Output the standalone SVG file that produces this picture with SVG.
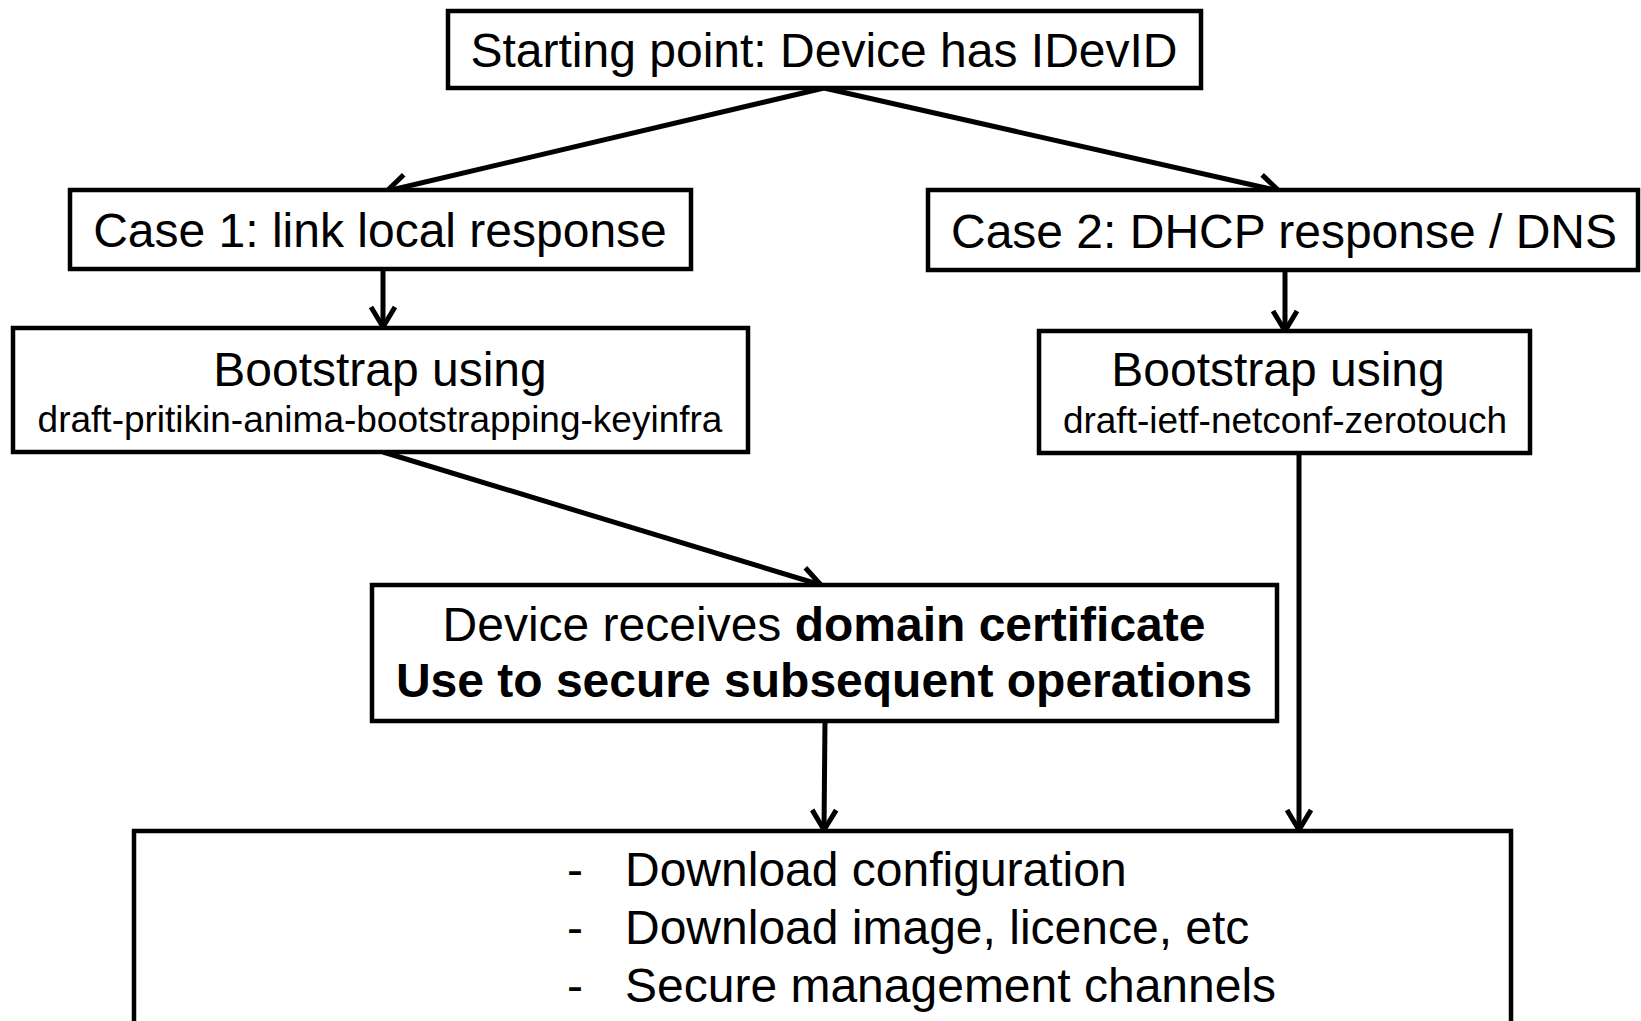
<svg xmlns="http://www.w3.org/2000/svg" width="1641" height="1021" viewBox="0 0 1641 1021">
<style>
.box{fill:#fff;stroke:#000;stroke-width:4.5}
.t{font-family:"Liberation Sans",Arial,sans-serif;font-size:48px;fill:#000}
.s{font-family:"Liberation Sans",Arial,sans-serif;font-size:37px;fill:#000}
.b{font-weight:bold}
.c{fill:none;stroke:#000;stroke-width:5;marker-end:url(#arr)}
</style>
<defs>
<marker id="arr" markerUnits="userSpaceOnUse" markerWidth="44" markerHeight="44" viewBox="-22 -22 44 44" refX="0" refY="0" orient="auto">
<path d="M-20,-12 L0,0 L-20,12" fill="none" stroke="#000" stroke-width="5" stroke-linejoin="miter"/>
</marker>
</defs>
<rect width="1641" height="1021" fill="#fff"/>
<g id="connectors">
<line class="c" x1="824" y1="88" x2="387" y2="191"/>
<line class="c" x1="824" y1="88" x2="1279" y2="191"/>
<line class="c" x1="383" y1="269" x2="383" y2="327"/>
<line class="c" x1="1285" y1="270" x2="1285" y2="331"/>
<line class="c" x1="383" y1="452" x2="821" y2="585"/>
<line class="c" x1="825" y1="721" x2="824" y2="830"/>
<line class="c" x1="1299" y1="453" x2="1299" y2="830"/>
</g>
<g id="start">
<rect class="box" x="448" y="11" width="753" height="77"/>
<text class="t" x="824" y="67" text-anchor="middle">Starting point: Device has IDevID</text>
</g>
<g id="case1">
<rect class="box" x="70" y="190" width="621" height="79"/>
<text class="t" x="380" y="247" text-anchor="middle">Case 1: link local response</text>
</g>
<g id="case2">
<rect class="box" x="928" y="190" width="710" height="80"/>
<text class="t" x="1284" y="248" text-anchor="middle">Case 2: DHCP response / DNS</text>
</g>
<g id="bootstrap1">
<rect class="box" x="13" y="328" width="735" height="124"/>
<text class="t" x="380" y="386" text-anchor="middle">Bootstrap using</text>
<text class="s" x="380" y="432" text-anchor="middle">draft-pritikin-anima-bootstrapping-keyinfra</text>
</g>
<g id="bootstrap2">
<rect class="box" x="1039" y="331" width="491" height="122"/>
<text class="t" x="1278" y="386" text-anchor="middle">Bootstrap using</text>
<text class="s" x="1285" y="433" text-anchor="middle">draft-ietf-netconf-zerotouch</text>
</g>
<g id="domaincert">
<rect class="box" x="372" y="585" width="905" height="136"/>
<text class="t" x="824" y="641" text-anchor="middle">Device receives <tspan class="b">domain certificate</tspan></text>
<text class="t b" x="824" y="697" text-anchor="middle">Use to secure subsequent operations</text>
</g>
<g id="operations">
<rect class="box" x="134" y="831" width="1377" height="210"/>
<text class="t" x="567" y="886">-</text>
<text class="t" x="625" y="886">Download configuration</text>
<text class="t" x="567" y="944">-</text>
<text class="t" x="625" y="944">Download image, licence, etc</text>
<text class="t" x="567" y="1002">-</text>
<text class="t" x="625" y="1002">Secure management channels</text>
</g>
</svg>
